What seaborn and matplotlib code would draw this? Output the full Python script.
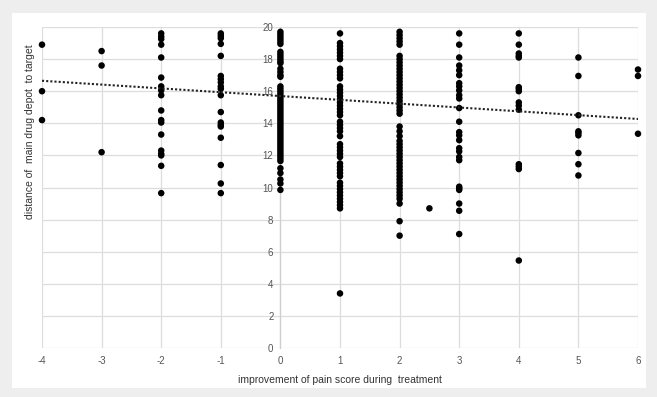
import matplotlib
matplotlib.use('Agg')
import matplotlib.pyplot as plt
import seaborn as sns
import numpy as np
import pandas as pd
from matplotlib.patches import Rectangle

# values, one list per improvement score
y_m4 = [18.9, 16.0, 14.2]
y_m3 = [18.5, 17.6, 12.2]
y_m2 = [19.6, 19.4, 19.25, 18.9, 18.1, 16.85, 16.3, 16.05, 15.75, 14.8,
        14.2, 14.05, 13.3, 12.3, 12.1, 12.0, 11.35, 9.65]
y_m1 = [19.6, 19.45, 19.3, 18.95, 18.2, 16.95, 16.75, 16.55, 16.3, 16.15,
        15.75, 14.7, 14.05, 13.9, 13.8, 13.1, 11.4, 10.25, 9.65]
y_0 = [19.7, 19.55, 19.4, 19.25, 19.1, 18.95, 18.45, 18.3, 18.15, 18.0,
       17.85, 17.75, 17.4, 17.2, 17.0, 16.9, 16.3, 16.15, 16.0, 15.85,
       15.7, 15.55, 15.4, 15.25, 15.1, 14.95, 14.8, 14.65, 14.5, 14.35,
       14.2, 14.05, 13.9, 13.75, 13.6, 13.45, 13.3, 13.15, 13.0, 12.85,
       12.7, 12.55, 12.4, 12.25, 12.1, 11.95, 11.8, 11.65, 11.2, 10.9,
       10.5, 10.25, 9.85]
y_1 = [19.6, 19.0, 18.8, 18.6, 18.4, 18.2, 18.0, 17.4, 17.2, 17.0,
       16.8, 16.3, 16.1, 15.9, 15.7, 15.5, 15.3, 15.1, 14.9, 14.7,
       14.5, 14.1, 13.9, 13.7, 13.5, 13.2, 12.7, 12.5, 12.3, 12.1,
       11.9, 11.5, 11.3, 11.1, 10.9, 10.7, 10.3, 10.1, 9.9, 9.7,
       9.5, 9.3, 9.1, 8.9, 8.7, 3.4]
y_2 = [19.7, 19.5, 19.3, 19.1, 18.9, 18.2, 18.0, 17.8, 17.6, 17.4,
       17.2, 17.0, 16.8, 16.6, 16.4, 16.2, 16.0, 15.8, 15.6, 15.4,
       15.2, 15.0, 14.8, 14.6, 13.8, 13.5, 13.2, 12.9, 12.7, 12.5,
       12.3, 12.1, 11.9, 11.7, 11.5, 11.3, 11.1, 10.9, 10.7, 10.5,
       10.3, 10.1, 9.9, 9.7, 9.5, 9.3, 9.0, 7.9, 7.0]
y_2_5 = [8.7]
y_3 = [19.6, 18.9, 18.1, 17.6, 17.3, 17.0, 16.5, 16.3, 16.05, 15.75,
       15.55, 14.95, 14.1, 13.45, 13.25, 12.95, 12.45, 12.25, 11.9, 11.7,
       10.05, 9.95, 9.85, 9.0, 8.55, 7.1]
y_4 = [19.6, 18.9, 18.35, 18.2, 18.1, 16.25, 16.15, 16.0, 15.3, 15.1,
       14.85, 11.45, 11.3, 11.15, 5.45]
y_5 = [18.1, 16.95, 14.5, 13.5, 13.4, 13.25, 12.15, 11.45, 10.75]
y_6 = [17.35, 16.95, 13.35]

groups = {-4: y_m4, -3: y_m3, -2: y_m2, -1: y_m1, 0: y_0, 1: y_1,
          2: y_2, 2.5: y_2_5, 3: y_3, 4: y_4, 5: y_5, 6: y_6}
df = pd.DataFrame([(k, v) for k, vals in groups.items() for v in vals],
                  columns=['improvement', 'distance'])

# dotted trend line
trend_x = [-4, 6]
trend_y = [16.65, 14.27]

x_ticks = [-4, -3, -2, -1, 0, 1, 2, 3, 4, 5, 6]
y_ticks = [0, 2, 4, 6, 8, 10, 12, 14, 16, 18, 20]

sns.set_style('white')
plt.rcParams['font.family'] = ['Liberation Sans', 'DejaVu Sans']
plt.rcParams['axes.unicode_minus'] = False

fig = plt.figure(figsize=(6.57, 3.97), dpi=100)
fig.patch.set_facecolor('#eeeeee')
fig.patches.append(Rectangle((12 / 657, 1 - 388 / 397), 634 / 657, 375 / 397,
                             transform=fig.transFigure, facecolor='white',
                             edgecolor='none', zorder=-10))

ax = fig.add_axes([42 / 657, 1 - 348 / 397, 596 / 657, 321 / 397])
ax.set_facecolor('none')

sns.scatterplot(data=df, x='improvement', y='distance', ax=ax, color='black',
                s=22, edgecolor='none', zorder=3, clip_on=False)
sns.lineplot(x=trend_x, y=trend_y, ax=ax, color='#222222', linestyle=(0, (1, 1)),
             linewidth=1.5, zorder=4)

ax.set_xlim(-4, 6)
ax.set_ylim(0, 20)
ax.set_xticks(x_ticks)
ax.set_yticks(y_ticks)
ax.grid(True, color='#dddddd', linewidth=0.9)
ax.set_axisbelow(True)

for side in ['top', 'right', 'bottom']:
    ax.spines[side].set_visible(False)
ax.spines['left'].set_position(('data', 0))
ax.spines['left'].set_color('#cfcfcf')
ax.spines['left'].set_linewidth(0.9)

ax.tick_params(axis='y', length=3, color='#999999', labelsize=7,
               labelcolor='#555555', pad=2)
ax.tick_params(axis='x', length=0, labelsize=7, labelcolor='#555555', pad=6)

ax.set_xlabel('improvement of pain score during  treatment', fontsize=7.5,
              color='#333333', labelpad=6)
ax.set_ylabel('')
fig.text(30 / 657, 1 - 132 / 397, 'distance of  main drug depot  to target',
         rotation=90, ha='center', va='center', fontsize=7.5, color='#333333')

plt.savefig('out.png', dpi=100, facecolor=fig.get_facecolor())
